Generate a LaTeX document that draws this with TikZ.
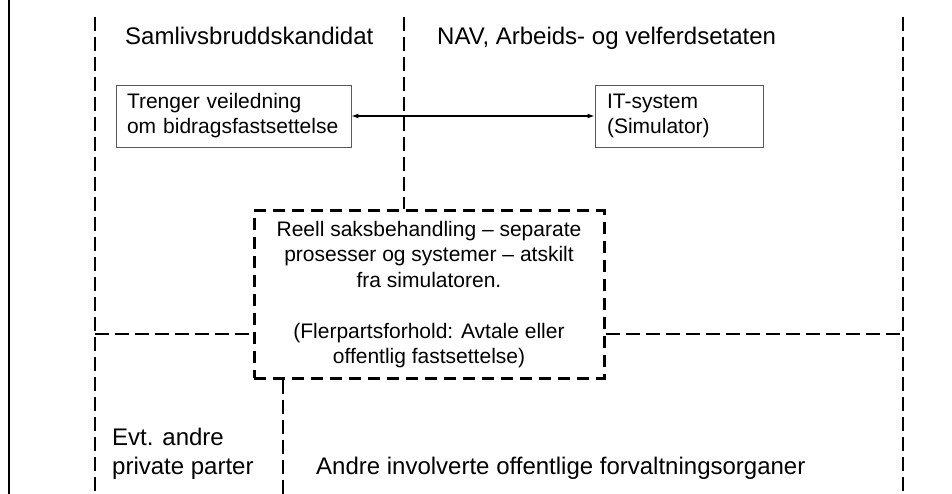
\documentclass[tikz,border=0pt]{standalone}
\usepackage{fontspec}
\setmainfont{Liberation Sans}
\usetikzlibrary{arrows.meta}
\begin{document}
\begin{tikzpicture}[x=1pt,y=-1pt,
  lane/.style={line width=1.5pt, dash pattern=on 14pt off 6pt},
  border/.style={line width=2.5pt},
  titletext/.style={inner sep=0pt, font=\fontsize{24}{29}\selectfont},
  greybox/.style={draw=black!65, line width=0.9pt, align=left, font=\fontsize{21}{25}\selectfont, inner xsep=11pt, inner ysep=0pt, minimum height=62pt},
  dashbox/.style={draw, line width=3pt, dash pattern=on 12pt off 7pt, align=center, font=\fontsize{21}{25.5}\selectfont, minimum width=350pt, minimum height=167pt, inner sep=0pt},
  link/.style={line width=1.2pt, {Latex[length=7pt,width=5pt]}-{Latex[length=7pt,width=5pt]}}
]
\useasboundingbox (0,0) rectangle (952,494);
% frame line
\coordinate (ltop) at (9,0);
\coordinate (lbot) at (9,494);
\draw[border] (ltop) -- (lbot);
% titles
\node[titletext, anchor=base west] (t1) at (125,45) {Samlivsbruddskandidat};
\node[titletext, anchor=base west] (t2) at (437,45) {NAV, Arbeids- og velferdsetaten};
% boxes
\node[greybox, minimum width=235pt, text width=213pt] (b1) at (233.5,116) {Trenger veiledning\\om bidragsfastsettelse};
\node[greybox, minimum width=168pt, inner xsep=12pt, text width=144pt] (b2) at (679,116) {IT-system\\(Simulator)};
\draw[link] (b1.east) -- (b2.west);
% dashed box
\node[dashbox] (db) at (429,294.5) {Reell saksbehandling – separate\\prosesser og systemer – atskilt\\fra simulatoren.\\[25.5pt](Flerpartsforhold: Avtale eller\\offentlig fastsettelse)};
% lane lines
\coordinate (v1t) at (95,17);
\coordinate (v1b) at (95,494);
\coordinate (v2t) at (404,17);
\coordinate (v3t) at (903,17);
\coordinate (v3b) at (903,494);
\coordinate (h1) at (95,334);
\coordinate (h2) at (903,334);
\coordinate (v4b) at (283,494);
\draw[lane] (v1t) -- (v1b);
\draw[lane] (v2t) -- (v2t |- db.north);
\draw[lane] (v3t) -- (v3b);
\draw[lane] (h1) -- (h1 -| db.west);
\draw[lane] (h2 -| db.east) -- (h2);
\draw[lane] (v4b |- db.south) -- (v4b);
% bottom labels
\node[titletext, anchor=north west, align=left] (p1) at (112,427.5) {Evt. andre\\private parter};
\node[titletext, anchor=base west] (p2) at (316,474) {Andre involverte offentlige forvaltningsorganer};
\end{tikzpicture}
\end{document}
